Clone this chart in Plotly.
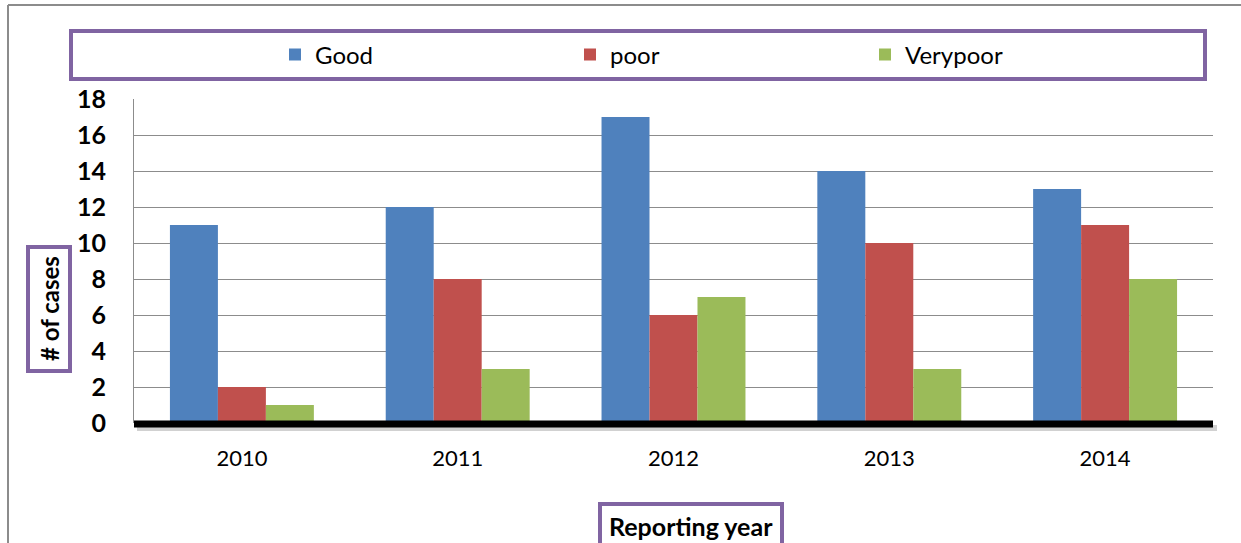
import plotly.graph_objects as go

years = ["2010", "2011", "2012", "2013", "2014"]
good = [11, 12, 17, 14, 13]
poor = [2, 8, 6, 10, 11]
verypoor = [1, 3, 7, 3, 8]
y_ticks = [0, 2, 4, 6, 8, 10, 12, 14, 16, 18]

W, H = 1241, 543
L, R, T, B = 134, 1213, 99, 423  # plot area in pixels
FONT = "Lato, 'Open Sans', sans-serif"
PURPLE = "#8064A2"


def px_x(p):
    return (p - L) / (R - L)


def px_y(p):
    return (B - p) / (B - T)


fig = go.Figure()
for name, vals, col in [("Good", good, "#4F81BD"),
                        ("poor", poor, "#C0504D"),
                        ("Verypoor", verypoor, "#9BBB59")]:
    fig.add_trace(go.Bar(x=years, y=vals, name=name, marker_color=col,
                         marker_line_width=0))

shapes = [
    # outer frame
    dict(type="line", xref="paper", yref="paper", x0=px_x(8), x1=px_x(W + 5),
         y0=px_y(5), y1=px_y(5), line=dict(color="#8c8c8c", width=2)),
    dict(type="line", xref="paper", yref="paper", x0=px_x(8), x1=px_x(8),
         y0=px_y(5), y1=px_y(H + 5), line=dict(color="#8c8c8c", width=2)),
    # legend box
    dict(type="rect", xref="paper", yref="paper", x0=px_x(71), x1=px_x(1205),
         y0=px_y(79), y1=px_y(31), line=dict(color=PURPLE, width=4)),
    # y title box
    dict(type="rect", xref="paper", yref="paper", x0=px_x(28), x1=px_x(70),
         y0=px_y(371), y1=px_y(247), line=dict(color=PURPLE, width=4)),
    # x title box
    dict(type="rect", xref="paper", yref="paper", x0=px_x(600), x1=px_x(782),
         y0=px_y(H + 10), y1=px_y(504), line=dict(color=PURPLE, width=4)),
    # baseline shadow and thick baseline
    dict(type="line", xref="paper", yref="paper", x0=px_x(137), x1=px_x(R + 4),
         y0=px_y(428), y1=px_y(428), line=dict(color="rgba(0,0,0,0.18)", width=6)),
    dict(type="line", xref="paper", yref="paper", x0=0, x1=1,
         y0=px_y(424), y1=px_y(424), line=dict(color="black", width=7)),
]

annotations = [
    dict(text="<b># of cases</b>", xref="paper", yref="paper", x=px_x(49),
         y=px_y(309), xanchor="center", yanchor="middle", showarrow=False,
         textangle=-90, font=dict(family=FONT, size=24, color="black")),
    dict(text="<b>Reporting year</b>", xref="paper", yref="paper", x=px_x(691),
         y=px_y(526), xanchor="center", yanchor="middle", showarrow=False,
         font=dict(family=FONT, size=25, color="black")),
]

fig.update_layout(
    width=W, height=H,
    margin=dict(l=L, r=W - R, t=T, b=H - B, pad=0),
    paper_bgcolor="white", plot_bgcolor="white",
    barmode="group", bargap=0.333, bargroupgap=0,
    font=dict(family=FONT, size=22, color="black"),
    legend=dict(orientation="h", x=px_x(275), y=px_y(55), xanchor="left",
                yanchor="middle", entrywidth=250, entrywidthmode="pixels",
                font=dict(family=FONT, size=24, color="black"),
                bgcolor="rgba(0,0,0,0)", borderwidth=0),
    xaxis=dict(showgrid=False, showline=False, ticks="",
               tickfont=dict(family=FONT, size=22), ticklabelstandoff=20),
    yaxis=dict(range=[0, 18], tickvals=y_ticks, showgrid=True,
               gridcolor="#8c8c8c", gridwidth=1, zeroline=False,
               showline=True, linecolor="#8c8c8c", linewidth=1,
               ticks="", ticklabelstandoff=22,
               tickfont=dict(family=FONT, size=25, color="black", weight="bold")),
    shapes=shapes, annotations=annotations,
)

fig.write_html("out.html")
